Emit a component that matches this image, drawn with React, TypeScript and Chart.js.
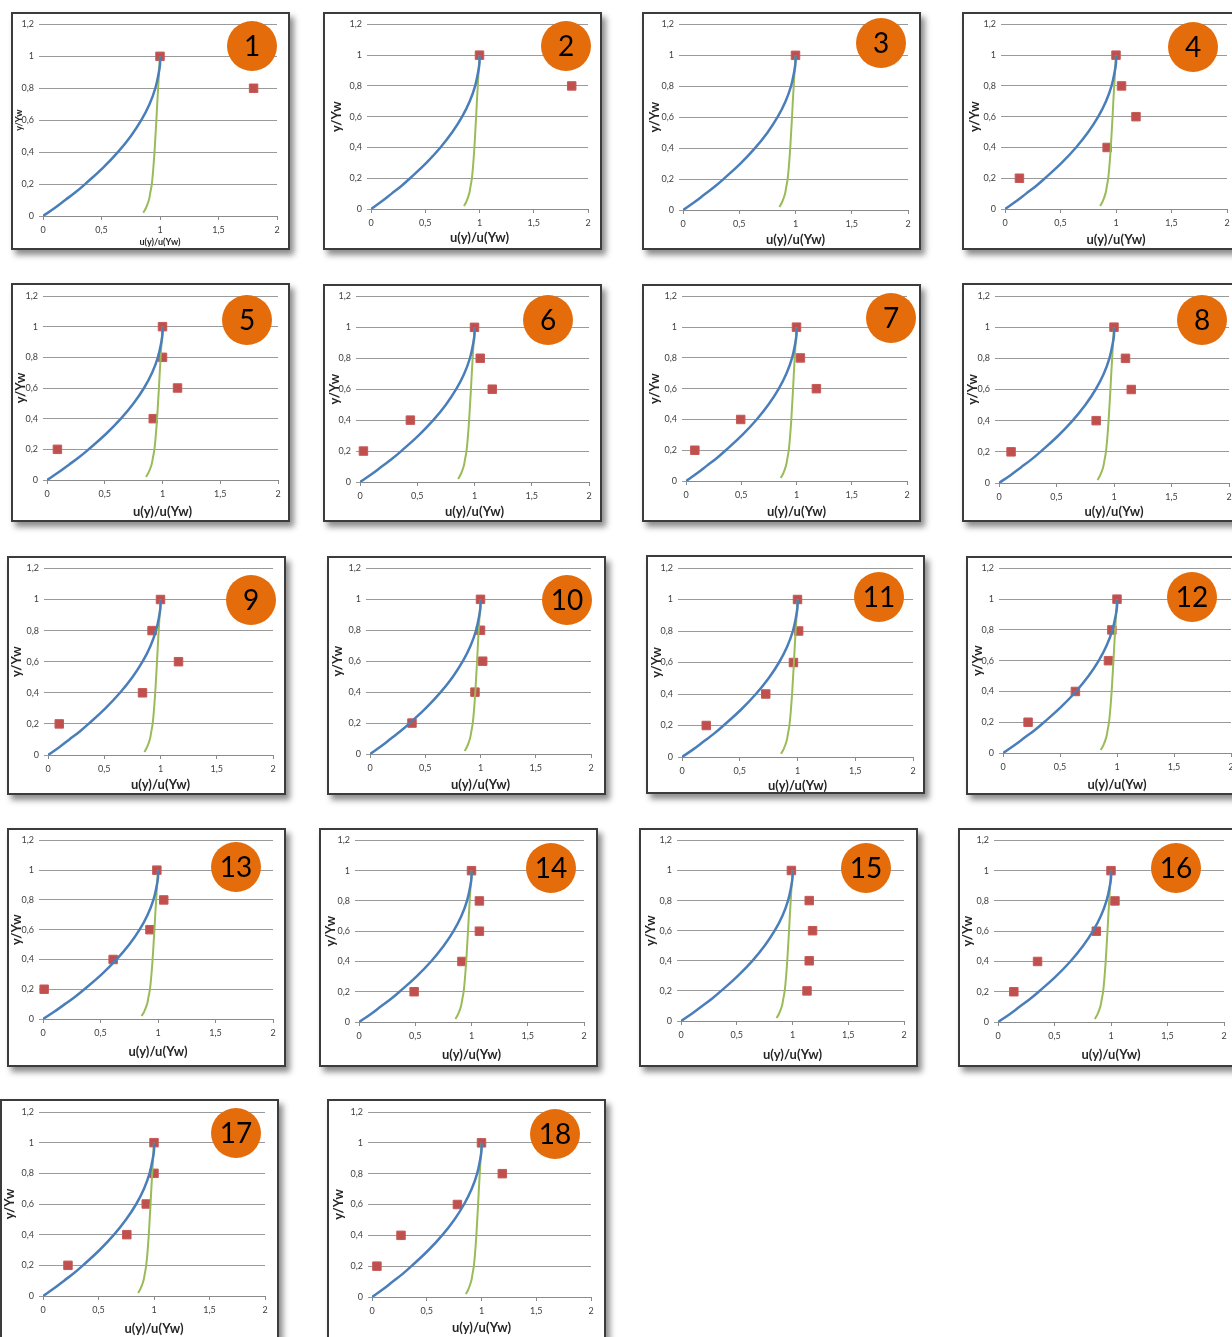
import React, { useEffect, useRef } from 'react';
import { Chart, registerables } from 'chart.js';
Chart.register(...registerables);

// ---------- data ----------
const panelLabels = ['1', '2', '3', '4', '5', '6', '7', '8', '9', '10', '11', '12', '13', '14', '15', '16', '17', '18'];
const xTickLabels = ['0', '0,5', '1', '1,5', '2'];
const yTickLabels = ['0', '0,2', '0,4', '0,6', '0,8', '1', '1,2'];
const xTitleText = 'u(y)/u(Yw)';
const yTitleText = 'y/Yw';

// laminar (blue) profile
const laminarY = [0, 0.05, 0.1, 0.15, 0.2, 0.3, 0.4, 0.5, 0.6, 0.7, 0.8, 0.9, 0.95, 1];
const laminarX = [0, 0.1, 0.19, 0.28, 0.36, 0.51, 0.64, 0.75, 0.84, 0.91, 0.96, 0.99, 1.0, 1.0];
// turbulent (green) profile
const turbY = [0.02, 0.05, 0.1, 0.15, 0.2, 0.3, 0.4, 0.5, 0.6, 0.7, 0.8, 0.9, 1];
const turbX = [0.857, 0.88, 0.905, 0.918, 0.93, 0.943, 0.953, 0.961, 0.969, 0.976, 0.984, 0.992, 1.0];

// measured points (red), y levels and x values per panel
const measY = [0.2, 0.4, 0.6, 0.8, 1.0];
const meas1 = [null, null, null, 1.8, 1.0];
const meas2 = [null, null, null, 1.85, 1.0];
const meas3 = [null, null, null, null, 1.0];
const meas4 = [0.13, 0.92, 1.18, 1.05, 1.0];
const meas5 = [0.09, 0.92, 1.13, 1.0, 1.0];
const meas6 = [0.03, 0.44, 1.155, 1.05, 1.0];
const meas7 = [0.08, 0.495, 1.18, 1.035, 1.0];
const meas8 = [0.105, 0.845, 1.15, 1.1, 1.0];
const meas9 = [0.1, 0.84, 1.16, 0.925, 1.0];
const meas10 = [0.38, 0.95, 1.02, 1.0, 1.0];
const meas11 = [0.21, 0.725, 0.965, 1.01, 1.0];
const meas12 = [0.22, 0.635, 0.925, 0.955, 1.0];
const meas13 = [0.01, 0.61, 0.93, 1.05, 0.99];
const meas14 = [0.49, 0.915, 1.07, 1.07, 1.0];
const meas15 = [1.13, 1.15, 1.18, 1.15, 0.99];
const meas16 = [0.14, 0.35, 0.87, 1.035, 1.0];
const meas17 = [0.225, 0.755, 0.93, 1.0, 1.0];
const meas18 = [0.045, 0.265, 0.78, 1.19, 1.0];
const measAll = [meas1, meas2, meas3, meas4, meas5, meas6, meas7, meas8, meas9, meas10, meas11, meas12, meas13, meas14, meas15, meas16, meas17, meas18];

// ---------- layout (page pixels) ----------
// panel outer box: left, top, width, height
const panelBoxes = [
  [11, 12, 279, 238], [323, 12, 279, 238], [642, 12, 279, 238], [962, 12, 279, 238],
  [11, 283, 279, 239], [323, 284, 279, 238], [642, 284, 279, 238], [962, 283, 279, 239],
  [7, 556, 279, 239], [327, 556, 279, 239], [646, 555, 279, 239], [966, 556, 279, 239],
  [7, 828, 279, 239], [319, 828, 279, 239], [639, 828, 279, 239], [958, 828, 279, 239],
  [0, 1099, 279, 260], [327, 1099, 279, 260],
];
// plot area: x at 0, x at 2, y at 1.2, y at 0
const plotBoxes = [
  [43, 277, 23, 216], [371, 588, 24, 209], [683, 908, 23, 210], [1005, 1227, 23, 209],
  [47, 278, 296, 480], [360, 589, 296, 482], [686, 907, 296, 481], [999, 1229, 296, 483],
  [48, 273, 568, 755], [370, 591, 568, 754], [682, 913, 568, 757], [1003, 1231, 568, 753],
  [43, 273, 840, 1019], [359, 584, 840, 1022], [681, 904, 840, 1021], [998, 1224, 840, 1022],
  [43, 265, 1112, 1296], [372, 591, 1112, 1297],
];
// y-title centre x, x-title centre y
const titlePos = [
  [19, 242], [337, 238], [655, 240], [975, 240],
  [21, 512], [335, 512], [655, 512], [973, 512],
  [17, 785], [338, 785], [657, 786], [978, 785],
  [17, 1052], [331, 1055], [651, 1055], [968, 1055],
  [10, 1329], [339, 1328],
];
// badge centres
const badgePos = [
  [252, 46], [566, 46], [881, 43], [1193, 47],
  [247, 320], [548, 320], [891, 318], [1202, 320],
  [251, 600], [567, 600], [879, 597], [1192, 597],
  [236, 867], [551, 868], [866, 868], [1176, 868],
  [236, 1133], [555, 1134],
];

const FONT = 'Lato, "Liberation Sans", sans-serif';
const BORDER = 2;

function Panel({ i }: { i: number }) {
  const ref = useRef<HTMLCanvasElement>(null);
  const [L, T, W, H] = panelBoxes[i];
  const cw = W - 2 * BORDER;
  const ch = H - 2 * BORDER;

  useEffect(() => {
    if (!ref.current) return;
    const [x0, x2, y12, y0] = plotBoxes[i];
    const ox = L + BORDER;
    const oy = T + BORDER;
    const leftW = x0 - ox;
    const padTop = y12 - oy;
    const padRight = ox + cw - x2;
    const bottomH = oy + ch - y0;
    const [ytx, xty] = titlePos[i];
    const small = i === 0;
    const titleSize = small ? 9 : 13;
    const lh = titleSize * 1.2;
    const yTitlePad = ytx - ox - lh / 2;
    const xTitlePad = oy + ch - xty - lh / 2;
    const [bx, by] = badgePos[i];
    const bcx = bx - ox;
    const bcy = by - oy;
    const label = panelLabels[i];

    const badge = {
      id: 'badge',
      afterDraw(chart: any) {
        const ctx = chart.ctx;
        ctx.save();
        ctx.beginPath();
        ctx.arc(bcx, bcy, 25, 0, Math.PI * 2);
        ctx.fillStyle = '#E46C0A';
        ctx.fill();
        ctx.fillStyle = '#000';
        ctx.font = '28px ' + FONT;
        ctx.textAlign = 'center';
        ctx.textBaseline = 'middle';
        ctx.fillText(label, bcx, bcy + 1);
        ctx.restore();
      },
    };

    const meas = measAll[i];
    const redPts: { x: number; y: number }[] = [];
    meas.forEach((v, k) => {
      if (v !== null) redPts.push({ x: v as number, y: measY[k] });
    });

    const chart = new Chart(ref.current, {
      type: 'scatter',
      data: {
        datasets: [
          {
            data: laminarX.map((x, k) => ({ x, y: laminarY[k] })),
            showLine: true,
            borderColor: '#4A7EBB',
            borderWidth: 2.5,
            pointRadius: 0,
            tension: 0.4,
          },
          {
            data: turbX.map((x, k) => ({ x, y: turbY[k] })),
            showLine: true,
            borderColor: '#9BBB59',
            borderWidth: 2,
            pointRadius: 0,
            tension: 0.4,
          },
          {
            data: redPts,
            pointStyle: 'rect',
            pointRadius: 6,
            backgroundColor: '#C0504D',
            borderColor: '#C55A57',
            borderWidth: 1,
            clip: false,
          } as any,
        ],
      },
      options: {
        animation: false,
        responsive: false,
        devicePixelRatio: 1,
        events: [],
        layout: { padding: { top: padTop, right: padRight, left: 0, bottom: 0 } },
        plugins: { legend: { display: false }, tooltip: { enabled: false } },
        scales: {
          x: {
            type: 'linear',
            min: 0,
            max: 2,
            ticks: {
              stepSize: 0.5,
              maxRotation: 0,
              autoSkip: false,
              padding: 5,
              color: '#404040',
              font: { family: FONT, size: 9 },
              callback: (_v: any, idx: number) => xTickLabels[idx],
            },
            grid: { display: true, drawOnChartArea: false, drawTicks: true, tickLength: 4, color: '#8a8a8a' },
            border: { display: true, color: '#8a8a8a', width: 1 },
            title: {
              display: true,
              text: xTitleText,
              color: '#262626',
              font: { family: FONT, size: titleSize, weight: 'bold', lineHeight: 1.2 },
              padding: { top: 0, bottom: xTitlePad },
            },
            afterFit: (s: any) => { s.height = bottomH; },
          },
          y: {
            type: 'linear',
            min: 0,
            max: 1.2,
            ticks: {
              stepSize: 0.2,
              autoSkip: false,
              padding: 5,
              color: '#404040',
              font: { family: FONT, size: 9 },
              callback: (_v: any, idx: number) => yTickLabels[idx],
            },
            grid: { display: true, drawTicks: true, tickLength: 4, color: '#9a9a9a', lineWidth: 1 },
            border: { display: false },
            title: {
              display: true,
              text: yTitleText,
              color: '#262626',
              font: { family: FONT, size: titleSize, weight: 'bold', lineHeight: 1.2 },
              padding: { top: yTitlePad, bottom: 0 },
            },
            afterFit: (s: any) => { s.width = leftW; },
          },
        },
      } as any,
      plugins: [badge],
    });
    return () => chart.destroy();
  }, [i]);

  return (
    <div
      style={{
        position: 'absolute',
        left: L,
        top: T,
        width: W,
        height: H,
        boxSizing: 'border-box',
        border: `${BORDER}px solid #3c3c3c`,
        background: '#fff',
        boxShadow: '4px 5px 6px rgba(0,0,0,0.45)',
      }}
    >
      <canvas ref={ref} width={cw} height={ch} style={{ display: 'block', width: cw, height: ch }} />
    </div>
  );
}

export default function App() {
  return (
    <div
      style={{
        position: 'absolute',
        left: 0,
        top: 0,
        width: 1232,
        height: 1337,
        overflow: 'hidden',
        background: '#fff',
      }}
    >
      {panelLabels.map((_, i) => (
        <Panel key={i} i={i} />
      ))}
    </div>
  );
}
